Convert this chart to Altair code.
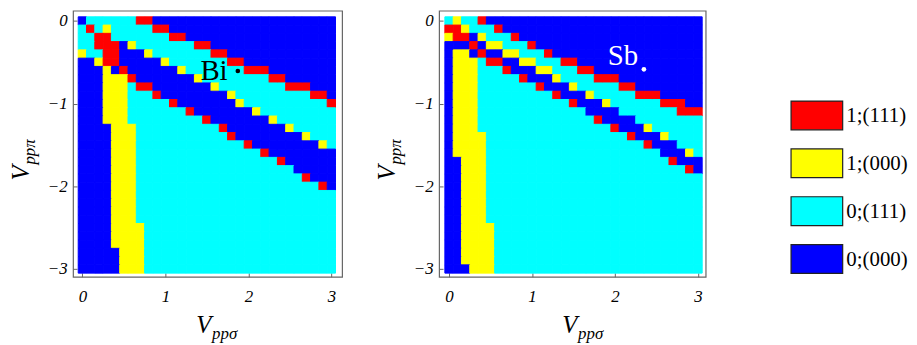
import altair as alt
import pandas as pd

# ---------------- data ----------------
phase_labels = ["1;(111)", "1;(000)", "0;(111)", "0;(000)"]
phase_codes = ["R", "Y", "C", "B"]
phase_colors = ["#ff0000", "#ffff00", "#00ffff", "#0000ff"]

v_sigma = [0.0, 0.1, 0.2, 0.3, 0.4, 0.5, 0.6, 0.7, 0.8, 0.9, 1.0, 1.1, 1.2, 1.3, 1.4, 1.5,
           1.6, 1.7, 1.8, 1.9, 2.0, 2.1, 2.2, 2.3, 2.4, 2.5, 2.6, 2.7, 2.8, 2.9, 3.0]
v_pi = [0.0, -0.1, -0.2, -0.3, -0.4, -0.5, -0.6, -0.7, -0.8, -0.9, -1.0, -1.1, -1.2, -1.3,
        -1.4, -1.5, -1.6, -1.7, -1.8, -1.9, -2.0, -2.1, -2.2, -2.3, -2.4, -2.5, -2.6, -2.7,
        -2.8, -2.9, -3.0]
half_cell = 0.05

# run-length rows (top row V_pppi = 0 first); letter = phase code, number = cells
bi_rows = [
    "B1 C6 R2 B22",
    "C1 R1 C1 Y1 C5 R2 B20",
    "C2 R2 C7 R2 B18",
    "C2 R3 B1 Y1 C7 R2 B15",
    "Y1 C2 R2 B3 Y1 C7 R2 B13",
    "B2 Y1 R2 B5 Y1 C7 R2 B11",
    "B3 Y1 B1 R1 B6 Y1 C7 R3 B8",
    "B3 Y3 R1 B7 Y1 C8 R2 B6",
    "B3 Y3 C1 R2 B7 Y1 C8 R3 B3",
    "B3 Y3 C3 R1 B8 Y1 C9 R2 B1",
    "B3 Y3 C5 R1 B7 Y1 C10 R1",
    "B3 Y3 C7 R1 B7 Y1 C9",
    "B3 Y3 C9 R1 B7 Y1 C7",
    "B4 Y3 C10 R1 B7 Y1 C5",
    "B4 Y3 C11 R1 B8 Y1 C3",
    "B4 Y3 C13 R1 B8 Y1 C1",
    "B4 Y3 C15 R1 B8",
    "B4 Y3 C17 R1 B6",
    "B4 Y3 C19 B5",
    "B4 Y3 C20 R1 B3",
    "B4 Y3 C22 R1 B1",
    "B4 Y3 C24",
    "B4 Y3 C24",
    "B4 Y3 C24",
    "B4 Y3 C24",
    "B4 Y4 C23",
    "B4 Y4 C23",
    "B4 Y4 C23",
    "B5 Y3 C23",
    "B5 Y3 C23",
    "B5 Y3 C23",
]

sb_rows = [
    "C1 Y1 C2 R1 B26",
    "R2 Y1 C3 R1 B24",
    "Y1 R2 B1 Y1 C3 R1 B22",
    "B3 R1 B1 Y2 C3 R1 B20",
    "B1 Y2 B1 R1 B2 Y2 C3 R1 B18",
    "B1 Y3 C1 R2 B2 Y2 C3 R2 B15",
    "B1 Y3 C3 R1 B3 Y2 C3 R2 B13",
    "B1 Y3 C5 R1 B3 Y1 C4 R3 B10",
    "B1 Y3 C7 R1 B3 Y1 C5 R2 B8",
    "B1 Y3 C9 R1 B3 Y1 C5 R3 B5",
    "B1 Y3 C11 R1 B3 Y1 C6 R3 B2",
    "B1 Y3 C13 B4 C7 R3",
    "B1 Y3 C14 R1 B4 C8",
    "B1 Y3 C16 R1 B3 Y1 C6",
    "B1 Y4 C17 R1 B3 Y1 C4",
    "B1 Y4 C19 R1 B3 C3",
    "B1 Y4 C21 B3 Y1 C1",
    "B2 Y3 C22 R1 B3",
    "B2 Y3 C24 R1 B1",
    "B2 Y3 C26",
    "B2 Y3 C26",
    "B2 Y3 C26",
    "B2 Y3 C26",
    "B2 Y3 C26",
    "B2 Y3 C26",
    "B2 Y4 C25",
    "B2 Y4 C25",
    "B2 Y4 C25",
    "B2 Y4 C25",
    "B2 Y4 C25",
    "B3 Y3 C25",
]

bi_marker = {"label": ["Bi"], "tx": [1.75], "ty": [-0.713], "px": [1.873], "py": [-0.605]}
sb_marker = {"label": ["Sb"], "tx": [2.28], "ty": [-0.53], "px": [2.348], "py": [-0.585]}

x_ticks = [0, 1, 2, 3]
y_ticks = [0, -1, -2, -3]


def expand(rows):
    recs = []
    for vp, row in zip(v_pi, rows):
        codes = "".join(run[0] * int(run[1:]) for run in row.split())
        for vs, code in zip(v_sigma, codes):
            recs.append({"vs": vs, "vp": vp,
                         "phase": phase_labels[phase_codes.index(code)]})
    return pd.DataFrame(recs)


# ---------------- styling ----------------
SERIF = "Liberation Serif"
cscale = alt.Scale(domain=phase_labels, range=phase_colors)
ydom = [-3.094, 0.124]
PLOT_H = 268

xaxis = alt.Axis(values=x_ticks, format="d", title=None, domain=False, grid=False,
                 ticks=True, tickSize=4, tickColor="#666", tickWidth=1, offset=-4,
                 labels=True, labelFont=SERIF, labelFontStyle="italic", labelFontSize=17,
                 labelColor="black", labelPadding=12, labelFlush=False)
yaxis = alt.Axis(values=y_ticks, format="d", title=None, domain=False, grid=False,
                 ticks=True, tickSize=4, tickColor="#666", tickWidth=1, offset=-4,
                 labels=True, labelFont=SERIF, labelFontStyle="italic", labelFontSize=17,
                 labelColor="black", labelPadding=6, labelFlush=False)

one = pd.DataFrame({"k": [0]})


def title_text(text, x, y, size, angle=0):
    return alt.Chart(one).mark_text(
        text=text, align="left", baseline="alphabetic", font=SERIF,
        fontStyle="italic", fontSize=size, color="black", angle=angle
    ).encode(x=alt.value(x), y=alt.value(y))


def make_panel(rows, xdom, width, marker, mcolor):
    xs = alt.Scale(domain=xdom, nice=False, zero=False)
    ys = alt.Scale(domain=ydom, nice=False, zero=False)
    heat = alt.Chart(expand(rows)).transform_calculate(
        x0=f"datum.vs - {half_cell}", x1=f"datum.vs + {half_cell}",
        y0=f"datum.vp - {half_cell}", y1=f"datum.vp + {half_cell}",
    ).mark_rect(strokeWidth=1).encode(
        x=alt.X("x0:Q", scale=xs, axis=xaxis),
        x2="x1:Q",
        y=alt.Y("y0:Q", scale=ys, axis=yaxis),
        y2="y1:Q",
        color=alt.Color("phase:N", scale=cscale, legend=None),
        stroke=alt.Stroke("phase:N", scale=cscale, legend=None),
    )
    mdf = pd.DataFrame(marker)
    txt = alt.Chart(mdf).mark_text(
        align="right", baseline="alphabetic", font=SERIF, fontSize=29, color=mcolor
    ).encode(
        x=alt.X("tx:Q", scale=xs, axis=xaxis),
        y=alt.Y("ty:Q", scale=ys, axis=yaxis),
        text="label:N",
    )
    dot = alt.Chart(mdf).mark_circle(size=22, color=mcolor, opacity=1).encode(
        x=alt.X("px:Q", scale=xs, axis=xaxis),
        y=alt.Y("py:Q", scale=ys, axis=yaxis),
    )
    layers = [
        heat, txt, dot,
        title_text("V", 124, 325, 25),
        title_text("ppσ", 140, 331, 17),
        title_text("V", -44, 171, 25, 270),
        title_text("ppπ", -38, 155, 17, 270),
    ]
    return alt.layer(*layers).properties(width=width, height=PLOT_H)


left = make_panel(bi_rows, [-0.1124, 3.1293], 271, bi_marker, "black")
right = make_panel(sb_rows, [-0.1196, 3.092], 268.5, sb_marker, "white")

# ---------------- legend panel ----------------
leg_df = pd.DataFrame({"phase": phase_labels})
leg_y = alt.Scale(type="point", domain=phase_labels, range=[105.5, 250.1], padding=0)
box_path = "M-1,-0.5577H1V0.5577H-1Z"
boxes = alt.Chart(leg_df).mark_point(
    shape=box_path, size=2704, filled=True, stroke="#222", strokeWidth=1.2, opacity=1
).encode(
    x=alt.value(13.8),
    y=alt.Y("phase:N", scale=leg_y, axis=None),
    color=alt.Color("phase:N", scale=cscale, legend=None),
)
leg_text = alt.Chart(leg_df).mark_text(
    align="left", baseline="middle", font=SERIF, fontSize=21, color="black", dy=1
).encode(
    x=alt.value(43.5),
    y=alt.Y("phase:N", scale=leg_y, axis=None),
    text="phase:N",
)
legend_panel = alt.layer(boxes, leg_text).properties(
    width=100, height=PLOT_H, view=alt.ViewBackground(stroke="transparent")
)

chart = alt.hconcat(left, right, legend_panel, spacing=97.7, bounds="flush").properties(
    padding={"left": 0.5, "top": 0.5, "right": 0, "bottom": 0},
    background="white",
).configure_view(stroke="#666", strokeWidth=1.2)

chart.save("out.html", embed_options={"renderer": "svg", "actions": False})
